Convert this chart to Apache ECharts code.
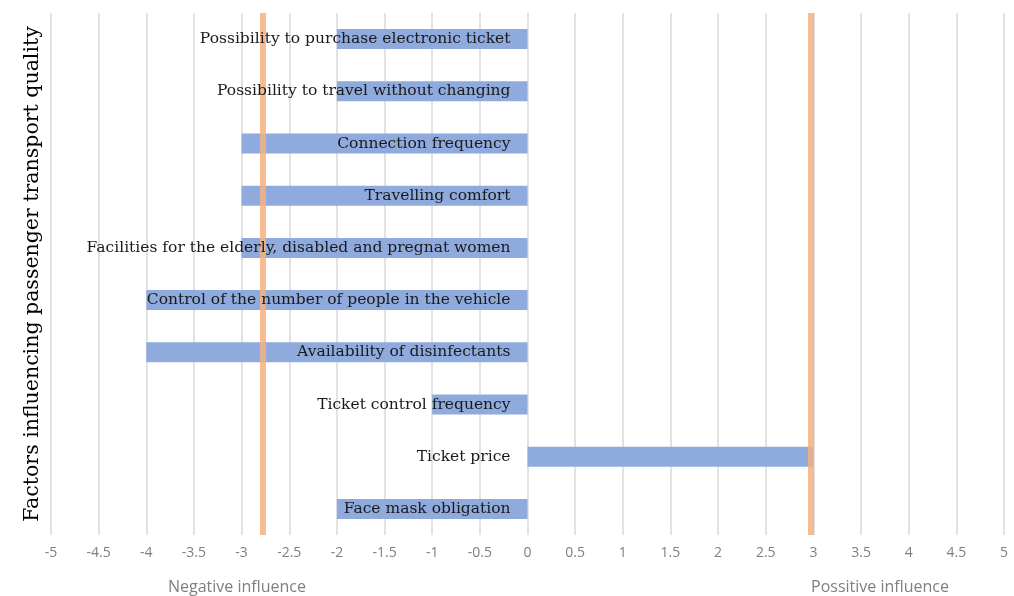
<!DOCTYPE html>
<html>
<head>
<meta charset="utf-8">
<script src="https://cdn.jsdelivr.net/npm/echarts@6/dist/echarts.min.js"></script>
<style>
  html, body { margin: 0; padding: 0; background: #fff; }
  #chart { width: 1014px; height: 596px; }
</style>
</head>
<body>
<div id="chart"></div>
<script>
// factors, top to bottom
var factors = [
  'Possibility to purchase electronic ticket',
  'Possibility to travel without changing',
  'Connection frequency',
  'Travelling comfort',
  'Facilities for the elderly, disabled and pregnat women',
  'Control of the number of people in the vehicle',
  'Availability of disinfectants',
  'Ticket control frequency',
  'Ticket price',
  'Face mask obligation'
];
var influence = [-2, -2, -3, -3, -3, -4, -4, -1, 3, -2];
// average negative / positive influence (orange lines)
var averages = [-2.78, 2.97];
var xMin = -5, xMax = 5, xStep = 0.5;
var gridLeft = 51;

var chart = echarts.init(document.getElementById('chart'));

chart.setOption({
  animation: false,
  grid: { left: gridLeft, right: 10, top: 13, bottom: 61, containLabel: false, outerBoundsMode: 'none' },
  xAxis: {
    type: 'value',
    min: xMin,
    max: xMax,
    interval: xStep,
    axisLine: { show: false },
    axisTick: { show: false },
    axisLabel: {
      color: '#7f7f7f',
      fontFamily: 'Open Sans',
      fontSize: 14,
      margin: 11
    },
    splitLine: { lineStyle: { color: '#d9d9d9', width: 1.5 } }
  },
  yAxis: {
    type: 'category',
    data: factors,
    inverse: true,
    z: 10,
    axisLine: { show: false },
    axisTick: { show: false },
    axisLabel: {
      color: '#1a1a1a',
      fontFamily: 'DejaVu Serif',
      fontSize: 15.5,
      margin: 17
    },
    splitLine: { show: false }
  },
  series: [{
    type: 'bar',
    data: influence,
    barWidth: 20,
    itemStyle: { color: '#8faadc' },
    markLine: {
      silent: true,
      symbol: 'none',
      label: { show: false },
      lineStyle: { color: '#f4b183', width: 6, type: 'solid', opacity: 0.85 },
      data: averages.map(function (v) { return { xAxis: v }; })
    }
  }],
  graphic: [
    {
      type: 'text',
      x: 33, y: 274,
      rotation: Math.PI / 2,
      style: {
        text: 'Factors influencing passenger transport quality',
        font: '20.5px "DejaVu Serif"',
        fill: '#000',
        align: 'center',
        verticalAlign: 'middle'
      }
    },
    {
      type: 'text',
      x: 237, y: 587,
      style: {
        text: 'Negative influence',
        font: '16px "Open Sans"',
        fill: '#7f7f7f',
        align: 'center',
        verticalAlign: 'middle'
      }
    },
    {
      type: 'text',
      x: 880, y: 587,
      style: {
        text: 'Possitive influence',
        font: '16px "Open Sans"',
        fill: '#7f7f7f',
        align: 'center',
        verticalAlign: 'middle'
      }
    }
  ]
});

// move the category labels so they end next to the zero line
var zeroX = chart.convertToPixel({ xAxisIndex: 0 }, 0);
chart.setOption({ yAxis: { offset: gridLeft - zeroX } });
</script>
</body>
</html>
